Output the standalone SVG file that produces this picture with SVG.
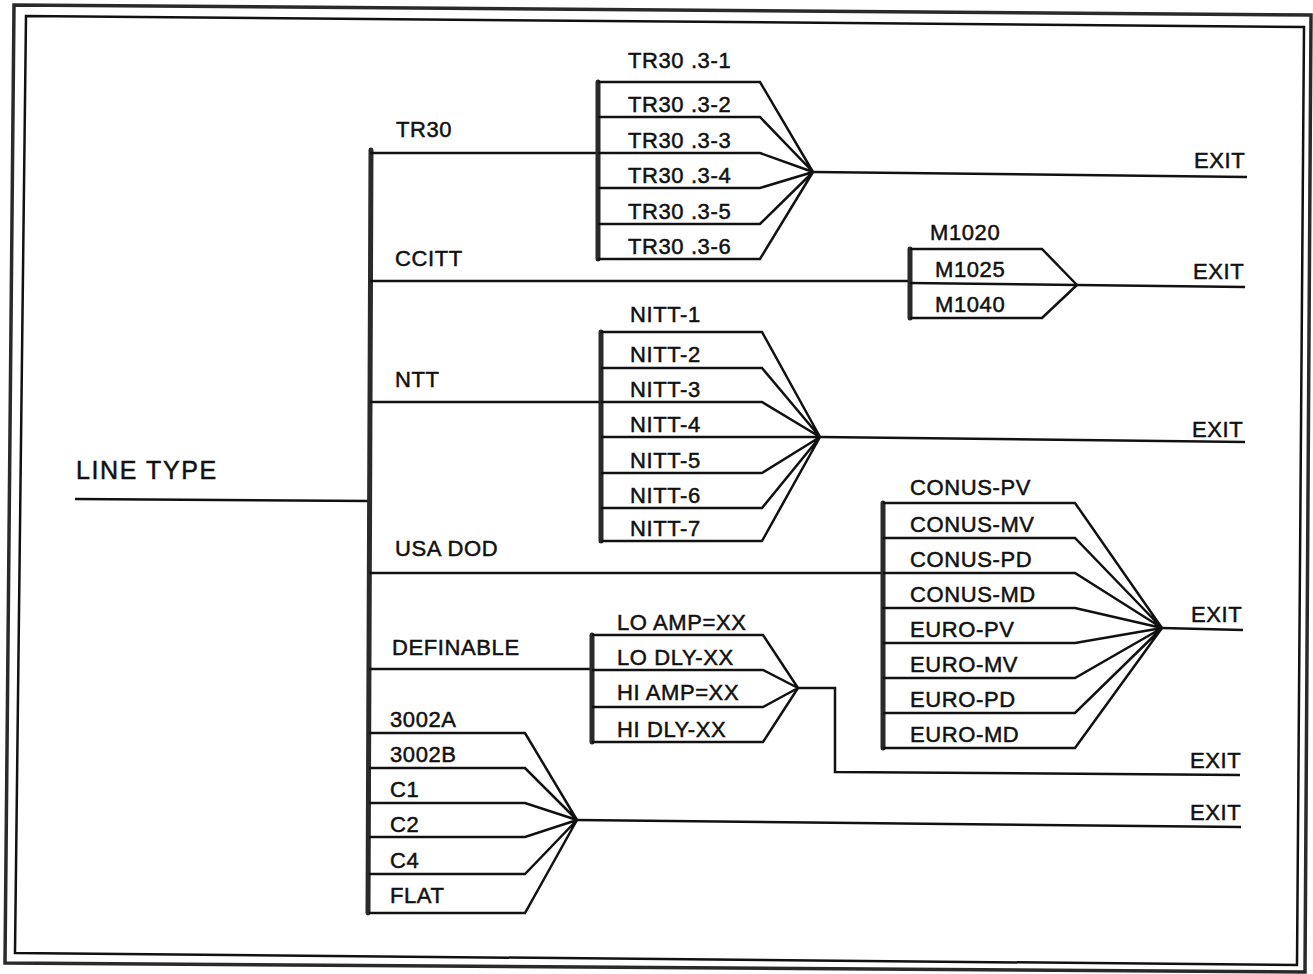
<svg xmlns="http://www.w3.org/2000/svg" width="1313" height="974" viewBox="0 0 1313 974">
<style>
.ln{fill:none;stroke:#111;stroke-width:2.5;stroke-linejoin:miter;stroke-linecap:butt}
.bar{fill:none;stroke:#2a2a2a;stroke-width:5;stroke-linecap:round}
.fr1{fill:none;stroke:#2a2a2a;stroke-width:3.5}
.fr2{fill:none;stroke:#111;stroke-width:2.5}
text{font-family:"Liberation Sans",Arial,sans-serif;font-size:22px;fill:#111;stroke:#111;stroke-width:0.5;letter-spacing:0.6px}
.big{font-size:25px;letter-spacing:1.6px}
</style>
<rect width="1313" height="974" fill="#fff"/>
<g id="frame">
<polygon class="fr1" points="14,5 1311,15 1305,972 5,963"/>
<polygon class="fr2" points="26,16 1304,27 1297,965 15,953"/>
</g>
<g id="root">
<text class="big" x="76" y="479">LINE TYPE</text>
</g>
<g id="connectors">
<path class="ln" d="M75,499 L370,501"/>
<path class="bar" d="M371,150 L368,913"/>
<path class="ln" d="M370,153 H598"/>
<path class="ln" d="M370,281 H910"/>
<path class="ln" d="M370,402 H601"/>
<path class="ln" d="M369,573 H883"/>
<path class="ln" d="M369,669 H592"/>
<path class="ln" d="M813,172 L1247,177"/>
<path class="ln" d="M1077,285 L1245,287"/>
<path class="ln" d="M820,437 L1245,442"/>
<path class="ln" d="M1162,628 L1243,630"/>
<path class="ln" d="M798,688 H835 V772 L1240,775"/>
<path class="ln" d="M577,820 L1241,827"/>
</g>
<g id="branch-labels">
<text x="396" y="137">TR30</text>
<text x="395" y="266">CCITT</text>
<text x="395" y="387">NTT</text>
<text x="395" y="556">USA DOD</text>
<text x="392" y="655">DEFINABLE</text>
</g>
<g id="exit-labels">
<text x="1194" y="168">EXIT</text>
<text x="1193" y="279">EXIT</text>
<text x="1192" y="437">EXIT</text>
<text x="1191" y="622">EXIT</text>
<text x="1190" y="768">EXIT</text>
<text x="1190" y="820">EXIT</text>
</g>
<g id="tr30-options">
<path class="bar" d="M598,82 V259"/>
<path class="ln" d="M598,82 H760 L813,172 M598,117 H760 L813,172 M598,153 H760 L813,172 M598,188 H760 L813,172 M598,224 H760 L813,172 M598,259 H760 L813,172"/>
<text x="628" y="68">TR30 .3-1</text>
<text x="628" y="112">TR30 .3-2</text>
<text x="628" y="148">TR30 .3-3</text>
<text x="628" y="183">TR30 .3-4</text>
<text x="628" y="219">TR30 .3-5</text>
<text x="628" y="254">TR30 .3-6</text>
</g>
<g id="ccitt-options">
<path class="bar" d="M910,249 V318"/>
<path class="ln" d="M910,249 H1042 L1077,285 M910,283 L1077,285 M910,318 H1042 L1077,285"/>
<text x="930" y="240">M1020</text>
<text x="935" y="277">M1025</text>
<text x="935" y="312">M1040</text>
</g>
<g id="ntt-options">
<path class="bar" d="M601,332 V541"/>
<path class="ln" d="M601,332 H762 L820,437 M601,368 H762 L820,437 M601,402 H762 L820,437 M601,437 H820 M601,473 H762 L820,437 M601,508 H762 L820,437 M601,541 H762 L820,437"/>
<text x="630" y="322">NITT-1</text>
<text x="630" y="362">NITT-2</text>
<text x="630" y="397">NITT-3</text>
<text x="630" y="432">NITT-4</text>
<text x="630" y="468">NITT-5</text>
<text x="630" y="503">NITT-6</text>
<text x="630" y="536">NITT-7</text>
</g>
<g id="usadod-options">
<path class="bar" d="M883,503 V748"/>
<path class="ln" d="M883,503 H1075 L1162,628 M883,538 H1075 L1162,628 M883,573 H1075 L1162,628 M883,608 H1075 L1162,628 M883,643 H1075 L1162,628 M883,678 H1075 L1162,628 M883,713 H1075 L1162,628 M883,748 H1075 L1162,628"/>
<text x="910" y="495">CONUS-PV</text>
<text x="910" y="532">CONUS-MV</text>
<text x="910" y="567">CONUS-PD</text>
<text x="910" y="602">CONUS-MD</text>
<text x="910" y="637">EURO-PV</text>
<text x="910" y="672">EURO-MV</text>
<text x="910" y="707">EURO-PD</text>
<text x="910" y="742">EURO-MD</text>
</g>
<g id="definable-options">
<path class="bar" d="M592,635 V742"/>
<path class="ln" d="M592,635 H763 L798,688 M592,670 H763 L798,688 M592,707 H763 L798,688 M592,742 H763 L798,688"/>
<text x="617" y="630">LO AMP=XX</text>
<text x="617" y="665">LO DLY-XX</text>
<text x="617" y="700">HI AMP=XX</text>
<text x="617" y="737">HI DLY-XX</text>
</g>
<g id="standard-options">
<path class="ln" d="M369,733 H525 L577,820 M369,768 H525 L577,820 M369,803 H525 L577,820 M369,837 H525 L577,820 M369,874 H525 L577,820 M369,913 H525 L577,820"/>
<text x="390" y="727">3002A</text>
<text x="390" y="762">3002B</text>
<text x="390" y="797">C1</text>
<text x="390" y="832">C2</text>
<text x="390" y="868">C4</text>
<text x="390" y="903">FLAT</text>
</g>
</svg>
